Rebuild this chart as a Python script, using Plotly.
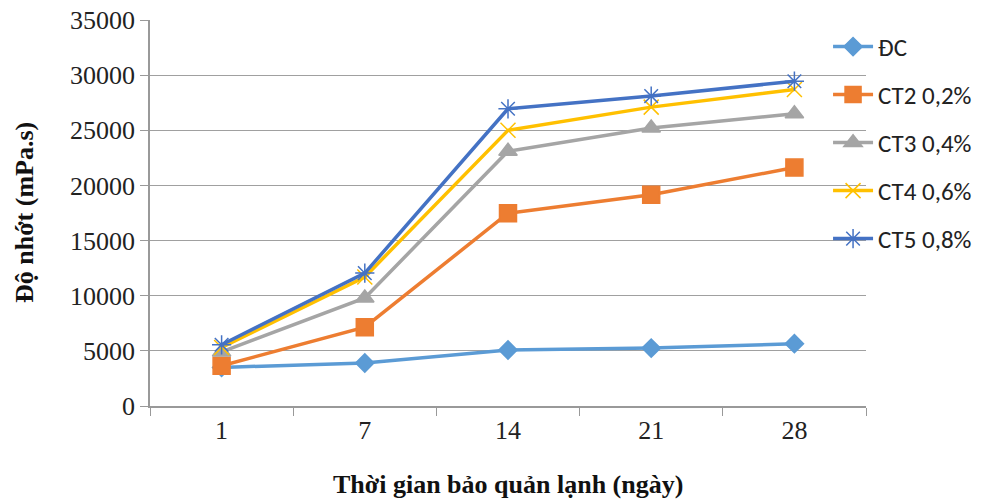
import plotly.graph_objects as go

days = ["1", "7", "14", "21", "28"]
dc = [3500, 3900, 5080, 5250, 5650]
ct2 = [3650, 7150, 17480, 19150, 21620]
ct3 = [4900, 9800, 23100, 25200, 26500]
ct4 = [5300, 11700, 25000, 27100, 28700]
ct5 = [5550, 12050, 26950, 28100, 29450]

names = ["ĐC", "CT2 0,2%", "CT3 0,4%", "CT4 0,6%", "CT5 0,8%"]
colors = ["#5B9BD5", "#ED7D31", "#A5A5A5", "#FFC000", "#4472C4"]
symbols = ["diamond", "square", "triangle-up", "x-thin-open", "asterisk-open"]
sizes = [14, 17, 16, 15, 16]
series = [dc, ct2, ct3, ct4, ct5]

fig = go.Figure()
for i, (nm, vals) in enumerate(zip(names, series)):
    fig.add_trace(go.Scatter(
        x=days, y=vals, name=nm, mode="lines+markers",
        legendgroup=f"g{i}",
        line=dict(color=colors[i], width=3.5),
        marker=dict(symbol=symbols[i], size=sizes[i], color=colors[i],
                    line=dict(color=colors[i], width=1.5)),
    ))

serif = "Liberation Serif, Times New Roman, serif"
fig.update_layout(
    width=991, height=500,
    margin=dict(l=150, r=125, t=20, b=94, autoexpand=False),
    paper_bgcolor="white", plot_bgcolor="white",
    showlegend=True,
    legend=dict(x=0.947, xanchor="left", y=0.99, yanchor="top",
                bgcolor="rgba(0,0,0,0)", tracegroupgap=12.5,
                font=dict(family="Carlito, Open Sans, Liberation Sans, sans-serif", size=25, color="#222"),
                traceorder="grouped", itemwidth=40),
    xaxis=dict(type="category", tickson="boundaries", ticks="outside", ticklen=8,
               tickcolor="#999", showline=True, linecolor="#999", linewidth=1.5,
               showgrid=False, tickfont=dict(family=serif, size=26, color="#222"),
               range=[-0.5, 4.5]),
    yaxis=dict(range=[0, 35000], dtick=5000, ticks="outside", ticklen=8, tickcolor="#999",
               showline=True, linecolor="#999", linewidth=1.5, showgrid=True,
               gridcolor="#A0A0A0", gridwidth=1.3, zeroline=False,
               tickfont=dict(family=serif, size=26, color="#222"), tickformat="d"),
    annotations=[
        dict(text="<b>Thời gian bảo quản lạnh (ngày)</b>", xref="paper", yref="paper",
             x=0.5, y=0, yshift=-78, xanchor="center", yanchor="middle", showarrow=False,
             font=dict(family=serif, size=26, color="#111")),
        dict(text="<b>Độ nhớt (mPa.s)</b>", xref="paper", yref="paper",
             x=0, y=0.5, xshift=-126, xanchor="center", yanchor="middle", showarrow=False,
             textangle=-90, font=dict(family=serif, size=26, color="#111")),
    ],
)
fig.write_html("out.html")
